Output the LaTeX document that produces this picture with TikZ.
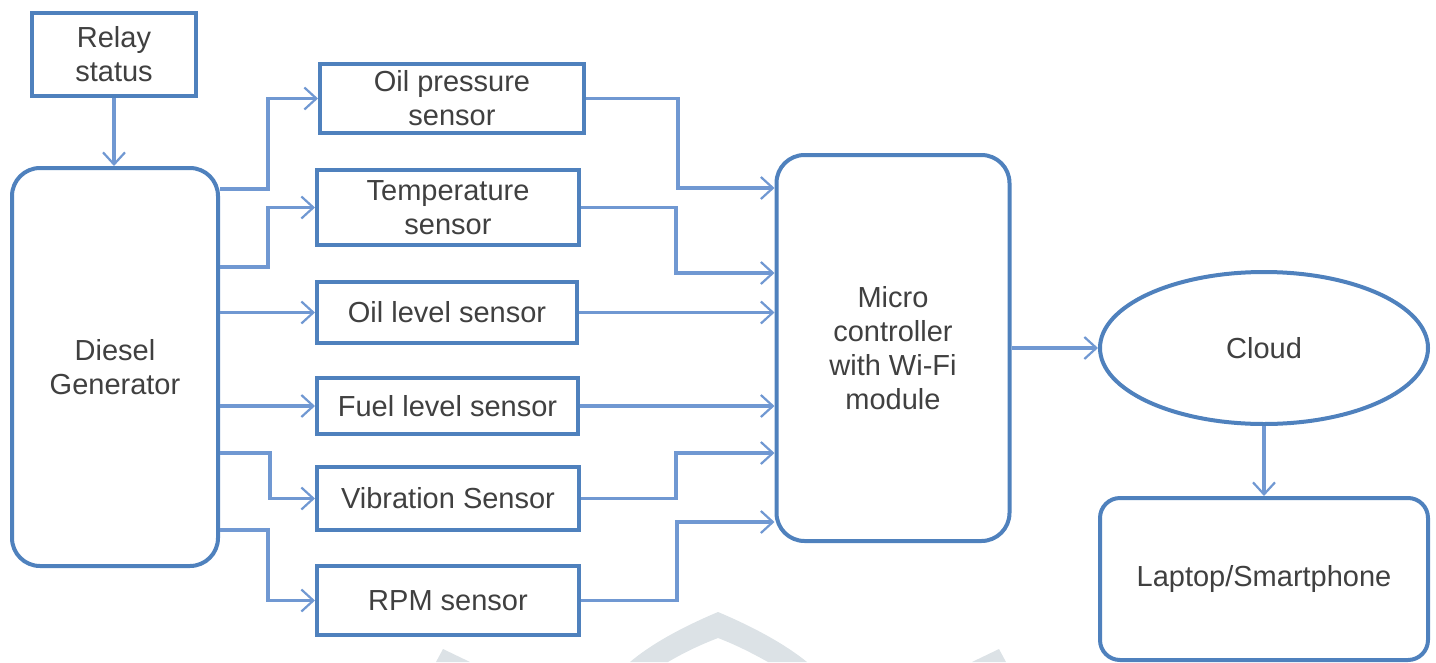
\documentclass[tikz,border=0pt]{standalone}
\usepackage{fontspec}
\setmainfont{Liberation Sans}
\usetikzlibrary{arrows.meta,shapes.geometric}
\definecolor{boxblue}{RGB}{79,129,189}
\definecolor{lineblue}{RGB}{112,152,210}
\definecolor{txtgray}{RGB}{64,64,64}
\definecolor{wmgray}{RGB}{220,226,230}
\tikzset{
  box/.style={draw=boxblue, line width=4pt, fill=white, text=txtgray, align=center,
    inner sep=0pt, font=\fontsize{29pt}{34pt}\selectfont},
  rbox/.style={box, rounded corners=28pt},
  conn/.style={draw=lineblue, line width=3.5pt},
  arr/.style={conn, -{Straight Barb[length=12pt,width=22pt,line width=2.2pt]}},
}
\begin{document}
\begin{tikzpicture}[x=1pt,y=-1pt]
\useasboundingbox (0,0) rectangle (1436,662);
% watermark
\fill[wmgray] (718,612) .. controls (680,628) and (650,645) .. (630,662) -- (668,662)
  .. controls (685,652) and (700,645) .. (718,638)
  .. controls (736,645) and (750,652) .. (768,662) -- (807,662)
  .. controls (786,645) and (756,628) .. (718,612) -- cycle;
\fill[wmgray] (436,662) -- (443,649) -- (470,662) -- cycle;
\fill[wmgray] (972,662) -- (999,649) -- (1006,662) -- cycle;
% nodes
\node[box, minimum width=164pt, minimum height=83pt] (relay) at (114,54) {Relay\\status};
\node[rbox, minimum width=206pt, minimum height=398pt] (diesel) at (115,367) {Diesel\\Generator};
\node[box, minimum width=264pt, minimum height=69pt] (oilp) at (452,98.5) {Oil pressure\\sensor};
\node[box, minimum width=262pt, minimum height=75pt] (temp) at (448,207.5) {Temperature\\sensor};
\node[box, minimum width=260pt, minimum height=61pt] (oill) at (447,312.5) {Oil level sensor};
\node[box, minimum width=261pt, minimum height=56pt] (fuel) at (447.5,406) {Fuel level sensor};
\node[box, minimum width=262pt, minimum height=63pt] (vib) at (448,498.5) {Vibration Sensor};
\node[box, minimum width=262pt, minimum height=69pt] (rpm) at (448,600.5) {RPM sensor};
\node[rbox, minimum width=233pt, minimum height=386pt] (micro) at (893,348) {Micro\\controller\\with Wi-Fi\\module};
\node[box, ellipse, minimum width=328pt, minimum height=152pt] (cloud) at (1264,348) {Cloud};
\node[box, rounded corners=20pt, minimum width=328pt, minimum height=162pt] (laptop) at (1264,579) {Laptop/Smartphone};
% connectors
\draw[arr] (relay.south) -- (relay.south |- diesel.north);
\draw[arr] (diesel.east |- 0,189) -- (268,189) |- (oilp.west);
\draw[arr] (diesel.east |- 0,267) -- (268,267) |- (temp.west);
\draw[arr] (diesel.east |- oill.west) -- (oill.west);
\draw[arr] (diesel.east |- fuel.west) -- (fuel.west);
\draw[arr] (diesel.east |- 0,453) -- (270,453) |- (vib.west);
\draw[arr] (diesel.east |- 0,530) -- (268,530) |- (rpm.west);
\draw[arr] (oilp.east) -| (678,188) -- (micro.west |- 0,188);
\draw[arr] (temp.east) -| (676,273) -- (micro.west |- 0,273);
\draw[arr] (oill.east) -- (micro.west |- oill.east);
\draw[arr] (fuel.east) -- (micro.west |- fuel.east);
\draw[arr] (vib.east) -| (676,453) -- (micro.west |- 0,453);
\draw[arr] (rpm.east) -| (677,522) -- (micro.west |- 0,522);
\draw[arr] (micro.east |- cloud.west) -- (cloud.west);
\draw[arr] (cloud.south) -- (laptop.north);
\end{tikzpicture}
\end{document}
